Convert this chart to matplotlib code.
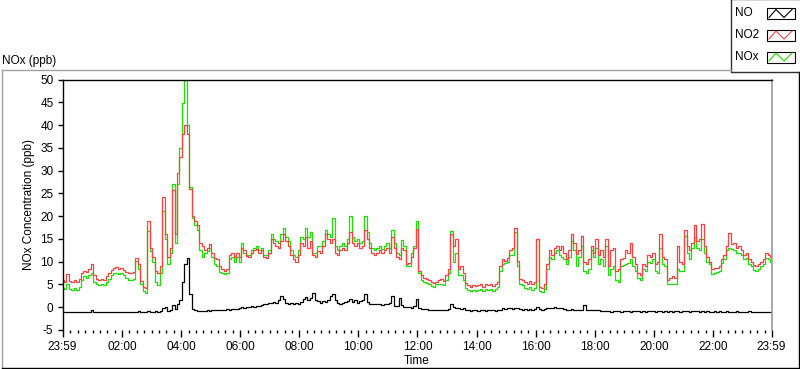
import numpy as np
import matplotlib
matplotlib.use("Agg")
import matplotlib.pyplot as plt
from matplotlib.patches import Rectangle
from matplotlib.lines import Line2D

plt.rcParams['font.family'] = ['Liberation Sans', 'DejaVu Sans']

# ---------------- data (5-minute samples starting 23:59) ----------------
step_min = 5

no2 = [
    6.0, 5.5, 7.2, 5.8, 5.5, 6.0, 5.6, 6.2, 7.5, 8.0, 7.8, 8.5,
    9.4, 7.0, 6.2, 6.0, 6.3, 6.0, 6.8, 7.5, 8.2, 8.7, 8.8, 8.5,
    8.7, 8.2, 7.8, 7.6, 7.5, 7.8, 10.8, 9.5, 5.8, 4.5, 4.3, 19.0,
    13.0, 11.0, 8.0, 7.5, 9.0, 24.2, 16.0, 11.0, 13.0, 25.7, 16.0, 29.4,
    33.0, 38.0, 40.0, 38.0, 26.0, 20.0, 19.0, 18.0, 14.0, 13.5, 12.5, 13.0,
    13.8, 12.0, 10.8, 10.5, 9.0, 8.3, 8.0, 8.5, 11.5, 12.0, 11.0, 12.0,
    11.0, 13.1, 12.5, 11.3, 11.0, 12.0, 12.5, 12.8, 12.0, 12.5, 11.0, 10.8,
    12.0, 15.0, 14.0, 13.5, 13.0, 14.5, 16.0, 14.6, 13.5, 11.5, 10.5, 10.0,
    11.5, 14.2, 13.5, 15.5, 13.0, 14.5, 11.5, 11.0, 12.4, 12.0, 13.5, 16.0,
    15.0, 14.0, 15.0, 12.0, 11.5, 12.5, 13.0, 12.5, 14.0, 16.5, 14.0, 13.5,
    14.2, 13.0, 13.5, 17.0, 15.0, 13.0, 12.0, 11.5, 12.0, 12.5, 11.8, 12.5,
    13.0, 12.0, 15.5, 13.0, 11.0, 10.5, 13.0, 12.5, 9.5, 9.8, 11.0, 13.0,
    17.2, 8.0, 7.0, 6.5, 6.2, 6.0, 5.5, 5.3, 5.6, 6.0, 6.2, 5.8,
    7.0, 8.3, 16.0, 13.5, 15.0, 8.5, 9.0, 7.5, 5.3, 4.8, 4.5, 4.8,
    4.6, 4.8, 5.0, 4.5, 5.2, 4.8, 5.0, 4.6, 5.0, 5.5, 9.0, 10.5,
    10.2, 10.8, 12.5, 13.0, 17.5, 10.2, 6.1, 6.0, 5.5, 5.2, 5.8, 5.0,
    5.5, 15.0, 4.5, 4.2, 5.0, 9.4, 12.5, 11.5, 13.0, 13.5, 12.5, 13.5,
    12.0, 10.5, 12.5, 16.0, 14.0, 11.7, 12.5, 15.7, 10.0, 9.5, 10.5, 13.5,
    12.0, 15.0, 11.5, 12.5, 11.0, 15.0, 9.0, 12.5, 13.0, 8.0, 8.5, 10.5,
    10.8, 12.5, 12.0, 14.2, 11.0, 9.5, 7.5, 7.0, 9.5, 9.0, 11.5, 11.0,
    12.0, 9.5, 10.0, 16.0, 11.0, 10.5, 6.0, 6.5, 6.8, 6.5, 13.5, 10.0,
    9.5, 17.0, 13.5, 12.5, 14.0, 18.0, 14.5, 15.0, 18.3, 13.5, 11.0, 10.0,
    8.5, 8.7, 8.7, 9.0, 10.5, 11.5, 13.5, 16.4, 13.8, 14.0, 13.0, 13.5,
    12.5, 11.5, 11.8, 10.5, 10.0, 9.2, 9.0, 9.5, 10.0, 10.5, 11.8, 11.5,
    11.0,
]

nox = [
    4.3, 4.0, 5.0, 4.0, 3.8, 4.2, 3.8, 4.5, 6.0, 6.9, 6.5, 7.0,
    7.5, 5.5, 5.0, 4.8, 5.0, 4.8, 5.5, 6.3, 7.0, 7.6, 7.6, 7.4,
    7.6, 7.0, 6.5, 6.0, 6.0, 6.2, 10.2, 8.5, 5.0, 3.5, 3.2, 16.8,
    12.4, 10.0, 5.5, 4.9, 7.5, 21.2, 15.0, 9.4, 12.0, 27.0, 14.0, 27.0,
    35.0, 44.8, 50.0, 40.0, 26.5, 19.5, 18.0, 17.0, 12.5, 11.0, 12.0, 12.4,
    13.0, 11.0, 9.5, 9.0, 7.8, 7.5, 7.2, 7.5, 10.5, 11.0, 10.0, 11.0,
    10.0, 14.2, 12.0, 11.5, 11.5, 12.5, 13.0, 13.5, 12.5, 13.0, 11.5, 11.5,
    12.5, 16.0, 15.0, 14.5, 14.0, 16.0, 17.5, 15.5, 14.5, 12.5, 11.5, 11.0,
    12.5, 15.5, 15.0, 17.5, 15.5, 16.5, 12.0, 12.0, 13.5, 13.5, 14.5, 17.0,
    16.0, 15.5, 19.5, 13.5, 12.5, 13.5, 14.0, 13.5, 15.0, 20.0, 15.5, 14.5,
    15.0, 14.0, 14.5, 20.0, 16.5, 14.0, 13.0, 12.5, 13.0, 13.5, 12.8, 13.5,
    14.0, 13.0, 17.0, 14.0, 12.0, 11.5, 14.7, 13.5, 9.0, 9.0, 12.0, 13.5,
    19.0, 7.5, 6.0, 5.5, 5.3, 5.0, 4.6, 4.5, 5.0, 5.0, 5.2, 4.8,
    6.0, 7.5, 16.8, 10.0, 12.0, 7.0, 7.0, 6.0, 4.3, 3.8, 3.5, 3.8,
    3.6, 3.8, 4.0, 3.5, 4.0, 3.8, 4.0, 3.5, 4.0, 4.5, 8.0, 9.5,
    9.8, 10.0, 11.5, 11.5, 16.5, 9.0, 5.0, 4.8, 4.3, 4.0, 4.5, 3.8,
    4.3, 15.0, 3.5, 3.3, 4.0, 8.3, 11.0, 10.5, 12.0, 12.5, 11.5, 11.0,
    10.5, 9.5, 11.0, 14.5, 12.5, 9.0, 11.0, 13.5, 8.0, 7.5, 8.5, 12.5,
    11.0, 13.0, 9.5, 10.5, 9.0, 13.5, 7.0, 8.5, 9.0, 6.0, 5.5, 9.0,
    9.3, 9.5, 9.8, 10.5, 9.0, 8.0, 6.5, 6.0, 8.5, 8.0, 10.0, 9.8,
    10.5, 8.0, 7.5, 13.0, 9.5, 9.0, 5.0, 5.0, 5.2, 5.0, 8.5, 8.0,
    8.0, 15.7, 12.0, 10.5, 13.0, 15.5, 13.0, 12.5, 15.0, 12.0, 10.0, 9.5,
    7.2, 7.5, 7.8, 8.0, 9.8, 10.5, 12.5, 13.0, 12.8, 12.5, 12.0, 12.0,
    11.5, 10.5, 10.8, 9.5, 9.0, 8.2, 8.0, 8.3, 9.0, 9.5, 10.8, 10.5,
    10.0,
]

no = [
    -1.0, -1.1, -1.0, -1.1, -1.0, -1.0, -1.1, -1.0, -1.1, -1.0, -1.0, -1.1,
    -0.6, -1.0, -1.1, -1.0, -1.0, -1.1, -1.0, -1.1, -1.0, -1.0, -1.1, -1.0,
    -1.0, -1.1, -1.0, -1.0, -1.1, -1.0, -1.0, -0.9, -1.0, -1.1, -1.0, -0.8,
    -1.0, -1.0, -0.9, -1.0, -0.9, -0.2, 0.0, -0.8, -0.7, 0.5, -0.3, 0.6,
    1.5, 5.5, 9.5, 10.9, 3.0, -0.3, -0.6, -0.8, -0.8, -0.9, -0.8, -0.7,
    -0.8, -0.7, -0.6, -0.7, -0.5, -0.6, -0.5, -0.4, -0.5, -0.4, -0.3, -0.3,
    -0.1, 0.0, -0.1, 0.1, 0.0, 0.2, 0.1, 0.3, 0.2, 0.4, 0.6, 0.8,
    1.0, 0.9, 1.2, 1.0, 1.5, 2.4, 1.8, 1.0, 0.8, 0.9, 0.7, 1.0,
    0.8, 1.2, 1.8, 2.2, 1.6, 2.0, 3.2, 1.5, 1.3, 1.0, 1.4, 1.2,
    1.5, 2.4, 2.8, 1.5, 1.0, 0.8, 1.0, 1.2, 1.3, 1.8, 1.2, 1.5,
    1.0, 1.3, 1.5, 2.8, 1.2, 0.8, 0.7, 0.6, 0.8, 0.7, 0.5, 0.6,
    0.8, 1.0, 2.4, 0.3, 0.2, 2.0, 0.5, 0.1, 0.0, 0.1, -0.1, 0.2,
    1.7, -0.2, -0.3, -0.4, -0.3, -0.5, -0.5, -0.6, -0.5, -0.5, -0.6, -0.5,
    -0.5, -0.4, 0.7, 0.0, -0.2, -0.1, -0.3, -0.2, -0.5, -0.7, -0.8, -0.7,
    -0.7, -0.8, -0.7, -0.7, -0.8, -0.7, -0.6, -0.7, -0.8, -0.7, -0.5, -0.2,
    -0.3, -0.2, -0.1, -0.3, -0.2, -0.2, -0.4, -0.5, -0.4, -0.5, -0.4, -0.5,
    -0.4, 0.0, -0.4, -0.5, -0.4, -0.1, -0.2, -0.1, 0.0, -0.1, -0.2, -0.1,
    -0.4, -0.5, -0.5, -0.4, -0.5, -0.6, -0.5, -0.5, 0.4, -0.5, -0.6, -0.5,
    -0.6, -0.5, -0.6, -0.8, -0.9, -0.8, -0.9, -1.0, -0.9, -0.8, -0.9, -1.0,
    -0.9, -0.8, -0.9, -1.0, -0.9, -0.9, -0.8, -1.0, -0.9, -1.0, -0.9, -0.8,
    -0.9, -1.0, -0.9, -0.8, -1.0, -0.9, -1.0, -0.9, -1.0, -0.9, -0.9, -1.0,
    -0.9, -0.8, -0.9, -1.0, -0.9, -0.8, -0.9, -1.0, -0.9, -1.0, -0.9, -1.0,
    -1.0, -0.9, -1.0, -0.9, -1.0, -1.0, -0.9, -1.0, -1.1, -1.0, -0.9, -1.0,
    -1.0, -1.1, -1.0, -0.9, -1.0, -1.1, -1.0, -1.0, -1.1, -1.0, -1.0, -1.1,
    -1.0,
]

series_names = ["NO", "NO2", "NOx"]
series_colors = ["#000000", "#ff4040", "#1ee000"]

x_tick_minutes = [0, 121, 241, 361, 481, 601, 721, 841, 961, 1081, 1201, 1321, 1440]
x_tick_labels = ["23:59", "02:00", "04:00", "06:00", "08:00", "10:00", "12:00",
                 "14:00", "16:00", "18:00", "20:00", "22:00", "23:59"]
y_ticks = [-5, 0, 5, 10, 15, 20, 25, 30, 35, 40, 45, 50]

# ---------------- figure ----------------
W, H = 800, 369
fig = plt.figure(figsize=(W / 100, H / 100), dpi=100)
fig.patch.set_facecolor("white")

def fx(px):
    return px / W

def fy(py):
    return 1 - py / H

# decoration overlay (pixel coordinates)
deco = fig.add_axes([0, 0, 1, 1], zorder=0)
deco.set_xlim(0, W)
deco.set_ylim(H, 0)
deco.axis("off")

# outer sunken frame
deco.add_line(Line2D([1.5, 730.5], [69.5, 69.5], color="#a0a0a0", lw=1.0))
deco.add_line(Line2D([1.5, 1.5], [69.5, 367.5], color="#a0a0a0", lw=1.0))
deco.add_line(Line2D([1.5, 798.5], [367.5, 367.5], color="#000000", lw=1.0))
deco.add_line(Line2D([798.5, 798.5], [71.5, 367.5], color="#000000", lw=1.0))

deco.text(2, 61, "NOx (ppb)", fontsize=8.5, ha="left", va="center")

# legend box
deco.add_patch(Rectangle((730.5, -1), 72, 72.5, facecolor="white",
                         edgecolor="#303030", lw=1.0))
leg_rows = [13.5, 35, 57]
for name, col, yc in zip(series_names, series_colors, leg_rows):
    deco.text(735, yc, name, fontsize=8.5, ha="left", va="center")
    deco.add_patch(Rectangle((766.5, yc - 5.5), 28, 11, facecolor="white",
                             edgecolor="#000000", lw=0.8))
    zx = [769, 776, 784, 792]
    zy = [yc + 4, yc - 4, yc + 4, yc - 4]
    deco.add_line(Line2D(zx, zy, color=col, lw=0.8))

# ---------------- main plot ----------------
ax = fig.add_axes([fx(62.5), fy(330), (771.5 - 62.5) / W, (330 - 79.5) / H], zorder=1)

t_no = np.arange(len(no)) * step_min
t_no2 = np.arange(len(no2)) * step_min
t_nox = np.arange(len(nox)) * step_min

ax.plot(t_nox, nox, color=series_colors[2], lw=0.9, drawstyle="steps-mid")
ax.plot(t_no2, no2, color=series_colors[1], lw=0.9, drawstyle="steps-mid")
ax.plot(t_no, no, color=series_colors[0], lw=0.9, drawstyle="steps-mid")

ax.set_xlim(0, 1440)
ax.set_ylim(-5, 50)

ax.set_xticks(x_tick_minutes)
ax.set_xticklabels(x_tick_labels)
minor = [m for m in np.arange(16, 1440, 15) if (m - 1) % 120 != 0]
ax.set_xticks(minor, minor=True)
ax.set_yticks(y_ticks)
ax.set_yticklabels([str(v) for v in y_ticks])

ax.tick_params(axis="x", which="major", direction="out", length=5, width=1,
               pad=3, labelsize=8.5, color="black")
ax.tick_params(axis="x", which="minor", direction="out", length=2.5, width=1,
               color="black")
ax.tick_params(axis="y", which="major", direction="out", length=3.5, width=1,
               pad=3, labelsize=8.5, color="black")

for side in ["left", "top"]:
    ax.spines[side].set_color("black")
    ax.spines[side].set_linewidth(1.0)
ax.spines["right"].set_color("#9a9a9a")
ax.spines["right"].set_linewidth(1.2)
ax.spines["bottom"].set_visible(False)

ax.set_xlabel("Time", fontsize=8.5, labelpad=1)
ax.set_ylabel("NOx Concentration (ppb)", fontsize=8.5, labelpad=4)

fig.savefig("out.png", dpi=100, facecolor="white")
